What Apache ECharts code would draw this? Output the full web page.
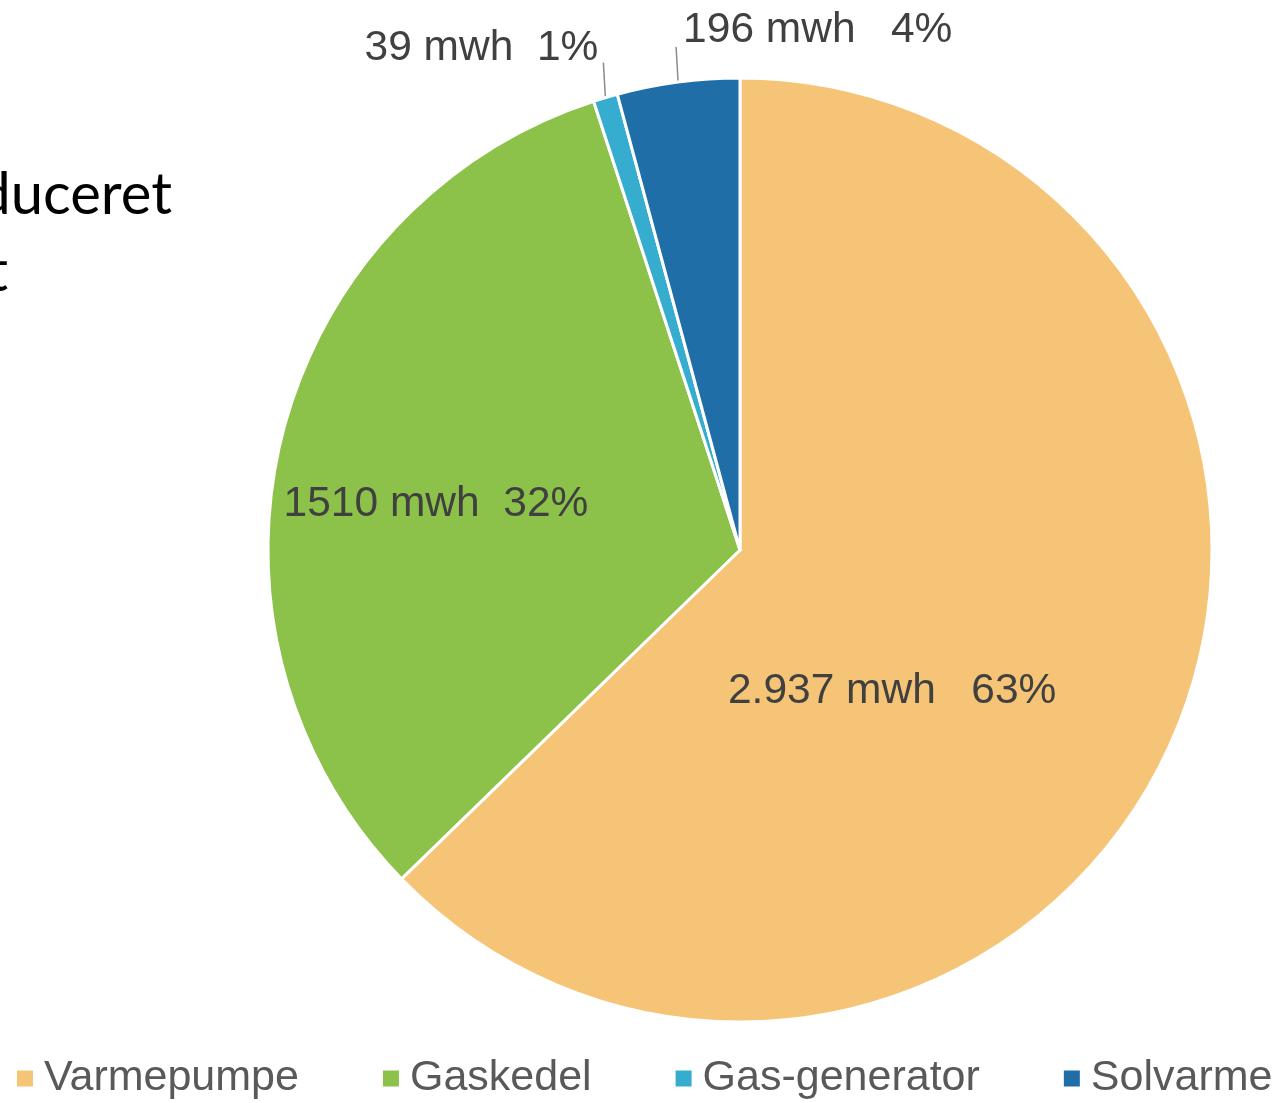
<!DOCTYPE html>
<html>
<head>
<meta charset="utf-8">
<script src="https://cdn.jsdelivr.net/npm/echarts@6/dist/echarts.min.js"></script>
<style>
html,body{margin:0;padding:0;background:#fff;}
#chart{width:1279px;height:1103px;}
</style>
</head>
<body>
<div id="chart"></div>
<script>
const categories = ['Varmepumpe', 'Gaskedel', 'Gas-generator', 'Solvarme'];
const values = [2937, 1510, 39, 196];
const valueLabels = ['2.937', '1510', '39', '196'];
const percentLabels = ['63%', '32%', '1%', '4%'];
const labelGaps = ['   ', '  ', '  ', '   '];
const colors = ['#F6C477', '#8CC14A', '#36ADCF', '#1F6EA8'];
const titleLines = ['Produceret', 'i alt'];

const chart = echarts.init(document.getElementById('chart'));

const data = categories.map((name, i) => {
  const item = { name: name, value: values[i], itemStyle: { color: colors[i] } };
  if (i >= 2) {
    item.label = { position: 'outside' };
    item.labelLine = { show: true, length: 35, length2: 0 };
  }
  return item;
});

const option = {
  backgroundColor: '#ffffff',
  animation: false,
  graphic: [
    { type: 'text', x: 172, y: 195, style: { text: titleLines[0], font: '58px Lato', fill: '#000', textAlign: 'right', textVerticalAlign: 'middle' } },
    { type: 'text', x: 8, y: 272, style: { text: titleLines[1], font: '58px Lato', fill: '#000', textAlign: 'right', textVerticalAlign: 'middle' } }
  ],
  legend: {
    data: categories,
    left: 15,
    top: 1057,
    width: 1400,
    padding: 0,
    icon: 'rect',
    itemWidth: 18,
    itemHeight: 18,
    itemGap: 82,
    textStyle: { fontSize: 43, color: '#595959', fontFamily: 'Liberation Sans, Arial, sans-serif', padding: [0, 0, 0, 5] }
  },
  series: [{
    type: 'pie',
    center: [740, 550],
    radius: 472,
    startAngle: 90,
    clockwise: true,
    avoidLabelOverlap: false,
    itemStyle: { borderColor: '#ffffff', borderWidth: 3 },
    label: {
      show: true,
      position: 'inside',
      fontSize: 42.5,
      color: '#404040',
      fontFamily: 'Liberation Sans, Arial, sans-serif',
      formatter: p => valueLabels[p.dataIndex] + ' mwh' + labelGaps[p.dataIndex] + percentLabels[p.dataIndex]
    },
    labelLine: { show: false, lineStyle: { color: '#8C8C8C', width: 1.5 } },
    emphasis: { disabled: true },
    labelLayout: function (params) {
      const i = params.dataIndex;
      if (i === 0) return { dx: -68, dy: 48 };
      if (i === 1) return { dx: -72, dy: 12 };
      const pts = params.labelLinePoints;
      if (!pts) return {};
      const p0 = pts[0];
      const top = [p0[0] - 2, p0[1] - 35];
      if (i === 2) {
        return { x: top[0] - 5, y: top[1] - 14, align: 'right', verticalAlign: 'middle', labelLinePoints: [p0, top, top] };
      }
      return { x: top[0] + 7, y: top[1] - 17, align: 'left', verticalAlign: 'middle', labelLinePoints: [p0, top, top] };
    },
    data: data
  }]
};
chart.setOption(option);
</script>
</body>
</html>
